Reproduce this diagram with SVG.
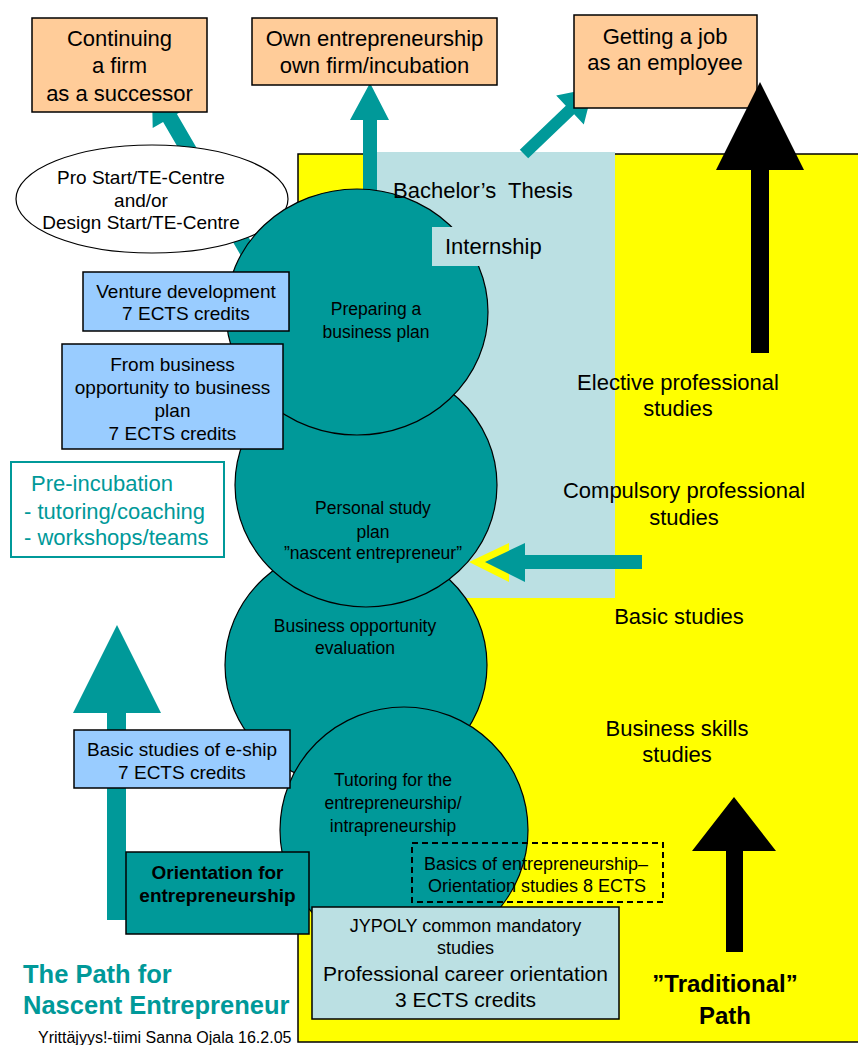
<svg xmlns="http://www.w3.org/2000/svg" width="858" height="1045" viewBox="0 0 858 1045">
<style>
text{font-family:"Liberation Sans",Arial,sans-serif;fill:#000}
.c{text-anchor:middle}
.s22{font-size:22px}
.s21{font-size:21px}
.s19{font-size:19px}
.s18{font-size:18px}
.s17{font-size:17.5px}
.b{font-weight:bold}
.teal{fill:#009999}
.orange{fill:#FFCC99;stroke:#000;stroke-width:1.5}
.lb{fill:#99CCFF;stroke:#000;stroke-width:1.5}
.circ{fill:#009999;stroke:#000;stroke-width:1.2}
.arrowT{fill:#009999}
.arrowK{fill:#000}
</style>
<rect width="858" height="1045" fill="#fff"/>
<g id="background">
<rect x="298" y="154" width="565" height="888" fill="#FFFF00" stroke="#000" stroke-width="1.5"/>
<rect x="370" y="152" width="245" height="446" fill="#BBE0E3"/>
</g>
<g id="connectors">
<polygon class="arrowT" points="363,215 363,120 350,120 370,83 389,120 377,120 377,215"/>
<polygon class="arrowT" points="262.4,260.9 176.9,114 187.3,107.9 151.9,86.9 152.7,128.1 163.1,122 248.6,268.9"/>
<polygon class="arrowT" points="528.2,158.3 574.2,114.3 583.8,124.5 593.1,87.9 556.2,95.5 565.8,105.7 519.8,149.7"/>
</g>
<g id="node-continuing">
<rect class="orange" x="32" y="18" width="175" height="94"/>
<text class="c s22" x="119.5" y="46">Continuing</text>
<text class="c s22" x="119.5" y="73">a firm</text>
<text class="c s22" x="119.5" y="101">as a successor</text>
</g>
<g id="node-own">
<rect class="orange" x="252" y="18" width="245" height="67"/>
<text class="c s22" x="374.5" y="46">Own entrepreneurship</text>
<text class="c s22" x="374.5" y="73">own firm/incubation</text>
</g>
<g id="node-job">
<rect class="orange" x="574" y="15" width="183" height="93"/>
<text class="c s22" x="665" y="44">Getting a job</text>
<text class="c s22" x="665" y="70">as an employee</text>
</g>
<g id="node-prostart">
<ellipse cx="152" cy="199" rx="136" ry="54" fill="#fff" stroke="#000" stroke-width="1.2"/>
<text class="c s19" x="141" y="184">Pro Start/TE-Centre</text>
<text class="c s19" x="141" y="207">and/or</text>
<text class="c s19" x="141" y="229">Design Start/TE-Centre</text>
</g>
<g id="node-opportunity">
<ellipse class="circ" cx="356" cy="665" rx="131" ry="122"/>
<text class="c s17" x="355" y="632">Business opportunity</text>
<text class="c s17" x="355" y="654">evaluation</text>
</g>
<g id="node-tutoring">
<ellipse class="circ" cx="404" cy="830" rx="124" ry="123"/>
<text class="c s17" x="393" y="786">Tutoring for the</text>
<text class="c s17" x="393" y="809">entrepreneurship/</text>
<text class="c s17" x="393" y="832">intrapreneurship</text>
</g>
<g id="node-personal">
<ellipse class="circ" cx="366" cy="485" rx="131" ry="122"/>
<text class="c s17" x="373" y="514">Personal study</text>
<text class="c s17" x="373" y="538">plan</text>
<text class="c s17" x="373" y="559">”nascent entrepreneur”</text>
</g>
<g id="node-preparing">
<ellipse class="circ" cx="357" cy="312" rx="131" ry="123"/>
<text class="c s17" x="376" y="315">Preparing a</text>
<text class="c s17" x="376" y="338">business plan</text>
</g>
<g id="node-thesis">
<text class="s22" x="393" y="198" xml:space="preserve">Bachelor’s  Thesis</text>
</g>
<g id="node-internship">
<rect x="432" y="227" width="113" height="39" fill="#BBE0E3"/>
<text class="s22" x="445" y="254">Internship</text>
</g>
<g id="node-venture">
<rect class="lb" x="83" y="272" width="206" height="59"/>
<text class="c s19" x="186" y="298">Venture development</text>
<text class="c s19" x="186" y="320">7 ECTS credits</text>
</g>
<g id="node-frombusiness">
<rect class="lb" x="62" y="344" width="221" height="105"/>
<text class="c s19" x="172.5" y="371">From business</text>
<text class="c s19" x="172.5" y="394">opportunity to business</text>
<text class="c s19" x="172.5" y="417">plan</text>
<text class="c s19" x="172.5" y="440">7 ECTS credits</text>
</g>
<g id="node-preincubation">
<rect x="11" y="462" width="213" height="95" fill="#fff" stroke="#009999" stroke-width="2"/>
<text class="s22 teal" x="31" y="491">Pre-incubation</text>
<text class="s22 teal" x="24" y="519">- tutoring/coaching</text>
<text class="s22 teal" x="24" y="545">- workshops/teams</text>
</g>
<g id="connectors-2">
<polygon class="arrowT" points="107,920 107,713 73,713 117,625 161,713 126,713 126,920"/>
<polygon points="469,562 509,543 509,582" fill="#FFFF00"/>
<polygon class="arrowT" points="642,555 525,555 525,543 485,562 525,582 525,569 642,569"/>
<polygon class="arrowK" points="751,353 751,170 716,170 760,82 804,170 769,170 769,353"/>
<polygon class="arrowK" points="726,952 726,851 692,851 734,797 776,851 743,851 743,952"/>
</g>
<g id="node-basiceship">
<rect class="lb" x="74" y="730" width="216" height="58"/>
<text class="c s19" x="182" y="756">Basic studies of e-ship</text>
<text class="c s19" x="182" y="779">7 ECTS credits</text>
</g>
<g id="node-orientation">
<rect x="126" y="852" width="183" height="82" fill="#009999" stroke="#000" stroke-width="1.5"/>
<text class="c s19 b" x="217.5" y="879">Orientation for</text>
<text class="c s19 b" x="217.5" y="902">entrepreneurship</text>
</g>
<g id="node-basics">
<rect x="412" y="843" width="251" height="59" fill="none" stroke="#000" stroke-width="2" stroke-dasharray="6 4"/>
<text class="c s18" x="536" y="870">Basics of entrepreneurship–</text>
<text class="c s18" x="537" y="892">Orientation studies 8 ECTS</text>
</g>
<g id="node-jypoly">
<rect x="312" y="907" width="307" height="112" fill="#BBE0E3" stroke="#000" stroke-width="1.5"/>
<text class="c s18" x="465.5" y="932">JYPOLY common mandatory</text>
<text class="c s18" x="465.5" y="954">studies</text>
<text class="c s21" x="465.5" y="980.5">Professional career orientation</text>
<text class="c s21" x="465.5" y="1007">3 ECTS credits</text>
</g>
<g id="node-levels">
<text class="c s22" x="678" y="390">Elective professional</text>
<text class="c s22" x="678" y="416">studies</text>
<text class="c s22" x="684" y="498">Compulsory professional</text>
<text class="c s22" x="684" y="525">studies</text>
<text class="c s22" x="679" y="624">Basic studies</text>
<text class="c s22" x="677" y="736">Business skills</text>
<text class="c s22" x="677" y="762">studies</text>
</g>
<g id="node-traditional">
<text class="c b" style="font-size:24px" x="725" y="991.5">”Traditional”</text>
<text class="c b" style="font-size:24px" x="725" y="1023.5">Path</text>
</g>
<g id="title">
<text class="b teal" style="font-size:25.5px" x="23" y="983">The Path for</text>
<text class="b teal" style="font-size:25.5px" x="23" y="1014">Nascent Entrepreneur</text>
<text style="font-size:16px" x="38" y="1042.5">Yrittäjyys!-tiimi Sanna Ojala 16.2.05</text>
</g>
</svg>
